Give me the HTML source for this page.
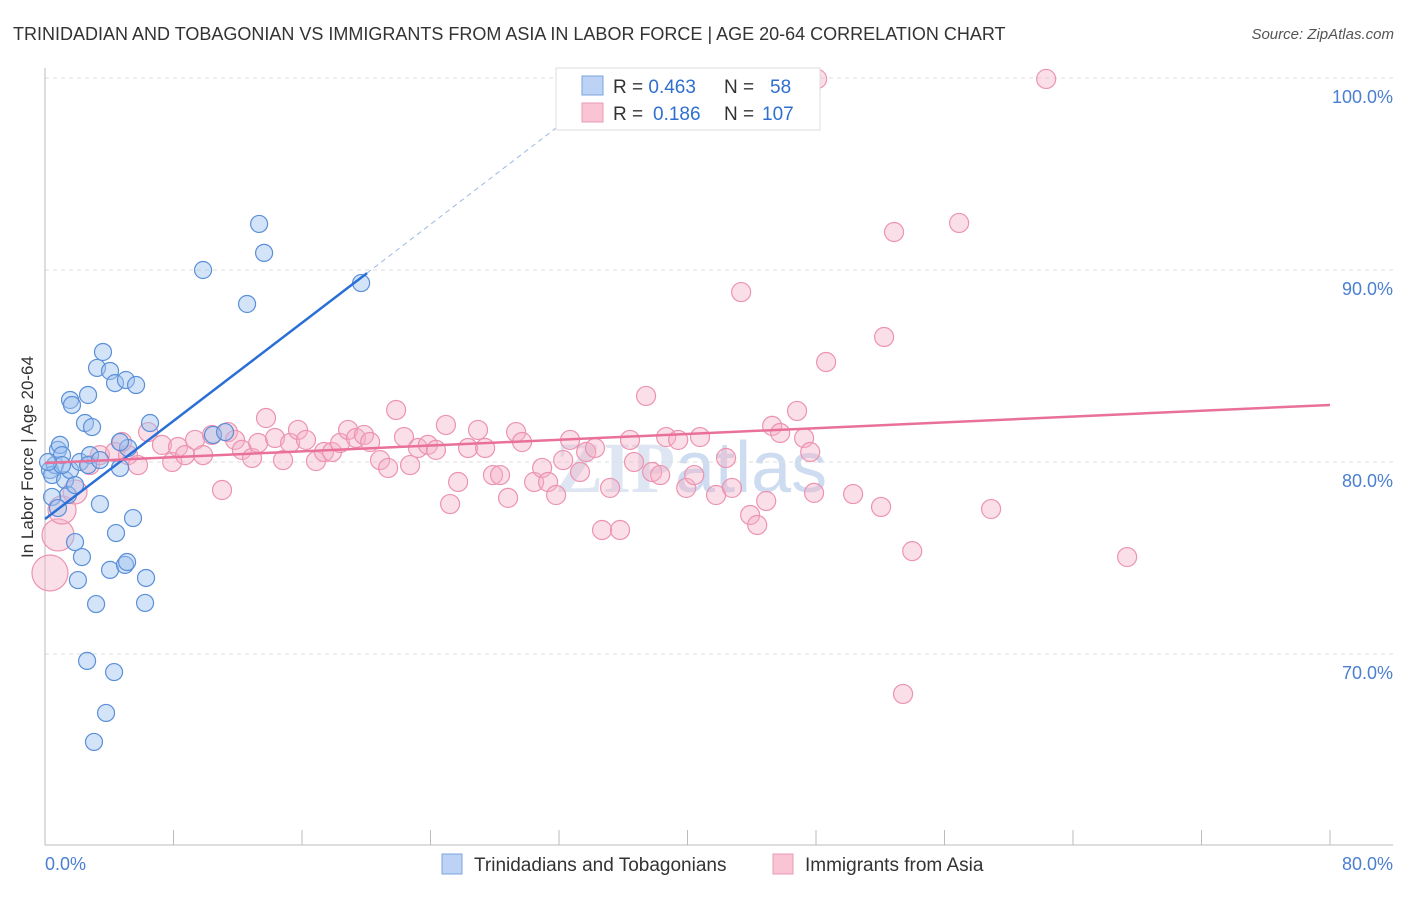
<!DOCTYPE html>
<html><head><meta charset="utf-8"><style>
body{margin:0;background:#fff;font-family:"Liberation Sans",sans-serif;}
</style></head><body>
<svg id="chart" width="1406" height="892" viewBox="0 0 1406 892" xmlns="http://www.w3.org/2000/svg" font-family="Liberation Sans, sans-serif">
<text x="13" y="40" font-size="18" fill="#333">TRINIDADIAN AND TOBAGONIAN VS IMMIGRANTS FROM ASIA IN LABOR FORCE | AGE 20-64 CORRELATION CHART</text>
<text x="1394" y="39" font-size="15" fill="#555" font-style="italic" text-anchor="end">Source: ZipAtlas.com</text>
<text x="555" y="492" font-size="72" fill="#dde6f2" font-weight="bold" font-family="Liberation Serif, serif">ZIP<tspan fill="#cddcf0" font-weight="normal" font-family="Liberation Sans, sans-serif">atlas</tspan></text>
<text transform="translate(33,457) rotate(-90)" font-size="17" fill="#333" text-anchor="middle">In Labor Force | Age 20-64</text>
<g id="grid"></g><g id="pts"></g><g id="lines"></g>
<g>
<rect x="556" y="68" width="264" height="62" fill="#fff" stroke="#ddd"/>
<rect x="582" y="76" width="21" height="19" fill="#bcd3f5" stroke="#7aa3e0"/>
<rect x="582" y="103" width="21" height="19" fill="#f9c4d4" stroke="#eb9ab5"/>
<text x="613" y="93" font-size="19" fill="#333">R = <tspan fill="#2f6fd0">0.463</tspan><tspan x="724">N = </tspan><tspan x="770" fill="#2f6fd0">58</tspan></text>
<text x="613" y="120" font-size="19" fill="#333">R = <tspan x="653" fill="#2f6fd0">0.186</tspan><tspan x="724">N = </tspan><tspan x="762" fill="#2f6fd0">107</tspan></text>
</g>
<g>
<rect x="442" y="854" width="20" height="20" fill="#bcd3f5" stroke="#7aa3e0"/>
<text x="474" y="871" font-size="19" fill="#333">Trinidadians and Tobagonians</text>
<rect x="773" y="854" width="20" height="20" fill="#f9c4d4" stroke="#eb9ab5"/>
<text x="805" y="871" font-size="19" fill="#333">Immigrants from Asia</text>
</g>
</svg>
<script>
const blueX=[0.31,0.62,0.81,0.93,0.44,1.06,1.25,1.56,1.43,1.87,2.18,2.80,2.68,3.42,4.67,5.17,6.54,1.56,1.68,2.68,2.49,2.93,3.61,3.24,4.05,4.36,5.04,5.67,0.44,0.81,1.87,2.30,2.05,3.42,4.42,5.48,4.05,4.98,5.11,6.29,3.18,6.23,2.62,4.30,3.80,3.05,9.84,12.58,13.33,13.64,19.68,10.46,11.21,1.06,0.19,4.67];
const blueY=[79.58,79.84,80.63,80.89,79.32,80.36,79.06,79.58,78.28,78.80,80.0,80.36,79.84,80.1,79.69,80.73,82.03,83.23,82.97,83.49,82.03,81.82,85.73,84.90,84.74,84.11,84.27,84.01,78.18,77.6,75.83,75.05,73.85,77.81,76.30,77.08,74.38,74.64,74.79,73.96,72.6,72.66,69.64,69.06,66.93,65.42,90.0,88.23,92.40,90.89,89.32,81.41,81.56,79.84,80.0,81.04];
const pinkX=[0.31,0.81,1.06,1.87,2.8,3.42,4.36,5.17,5.79,4.79,6.42,7.28,7.92,8.28,8.72,9.34,9.84,10.4,11.02,11.39,11.83,12.26,12.89,13.27,13.76,14.32,14.82,15.26,15.75,16.25,16.87,17.37,17.87,18.37,18.87,19.36,19.86,20.24,20.86,21.36,21.86,22.35,22.73,23.22,23.84,24.34,24.96,25.22,25.72,26.34,26.96,27.4,27.89,28.33,28.83,29.33,29.7,30.45,30.95,31.32,31.82,32.26,32.69,33.31,33.69,34.24,34.68,35.18,35.8,36.42,36.67,37.42,37.8,38.3,38.67,39.42,39.92,40.42,40.78,41.78,42.4,42.77,43.34,43.9,44.34,44.9,45.27,45.77,46.82,47.26,47.64,47.88,48.07,48.63,50.31,52.05,52.24,52.86,53.42,53.99,56.91,58.9,62.33,67.37];
const pinkY=[74.22,76.2,77.5,78.44,79.84,80.36,80.52,80.36,79.84,81.04,81.56,80.89,80.0,80.78,80.36,81.15,80.36,81.41,78.54,81.56,81.15,80.63,80.21,80.99,82.29,81.25,80.1,80.99,81.67,81.15,80.05,80.52,80.52,80.99,81.67,81.25,81.41,81.04,80.1,79.69,82.71,81.3,79.84,80.73,80.89,80.63,81.93,77.81,78.96,80.73,81.67,80.73,79.32,79.32,78.13,81.56,81.04,78.96,79.69,78.96,78.28,80.1,81.15,79.48,80.52,80.73,76.46,78.65,76.46,81.15,80.0,83.44,79.48,79.32,81.3,81.15,78.65,79.32,81.3,78.28,80.21,78.65,88.85,77.24,76.72,77.97,81.88,81.51,82.66,81.25,80.52,78.39,99.95,85.21,78.33,77.66,86.51,91.98,67.92,75.36,92.45,77.55,99.95,75.05];
const pinkR=[18,16,14,12];
const yTicks=[100,90,80,70];
const yTickLabels=["100.0%","90.0%","80.0%","70.0%"];
const blueTrend=[[0,77.03],[20.05,89.84]];
const blueDash=[[20.05,89.84],[32.6,97.9]];
const pinkTrend=[[0,79.95],[80,82.97]];
const NS="http://www.w3.org/2000/svg";
function sx(v){return 45+v/80*1285;}
function sy(v){return 270+(90-v)*19.2;}
function mk(tag,attrs,parent){const e=document.createElementNS(NS,tag);for(const k in attrs)e.setAttribute(k,attrs[k]);parent.appendChild(e);return e;}
const grid=document.getElementById('grid');
yTicks.forEach((t,i)=>{
 const l=mk('line',{x1:45,x2:1393,y1:sy(t),y2:sy(t),stroke:'#ddd','stroke-dasharray':'4,4'},grid);
 
 
 const tx=mk('text',{x:1393,y:sy(t)+25,'font-size':18,fill:'#4a7fd0','text-anchor':'end'},grid);
 tx.textContent=yTickLabels[i];
 
 
});
const ax=mk('line',{x1:45,x2:45,y1:68,y2:845,stroke:'#bbb'},grid);


const bx=mk('line',{x1:45,x2:1393,y1:845,y2:845,stroke:'#bbb'},grid);


for(let i=0;i<=10;i++){
 const t=mk('line',{x1:sx(i*8),x2:sx(i*8),y1:830,y2:845,stroke:'#bbb'},grid);
 
 
}
const xl0=mk('text',{x:45,y:870,'font-size':18,fill:'#4a7fd0'},grid);xl0.textContent='0.0%';


const xl1=mk('text',{x:1393,y:870,'font-size':18,fill:'#4a7fd0','text-anchor':'end'},grid);xl1.textContent='80.0%';


const pts=document.getElementById('pts');
pinkX.forEach((x,i)=>{
 const c=mk('circle',{cx:sx(x),cy:sy(pinkY[i]),r:pinkR[i]||9.5,fill:'rgba(246,175,198,0.4)',stroke:'#ec93b0','stroke-width':1.2},pts);
 
 
});
blueX.forEach((x,i)=>{
 const c=mk('circle',{cx:sx(x),cy:sy(blueY[i]),r:8.5,fill:'rgba(160,195,240,0.45)',stroke:'#5b8fd8','stroke-width':1.2},pts);
 
 
});
const lines=document.getElementById('lines');
const b=mk('line',{x1:sx(blueTrend[0][0]),y1:sy(blueTrend[0][1]),x2:sx(blueTrend[1][0]),y2:sy(blueTrend[1][1]),stroke:'#2a6fd6','stroke-width':2.5},lines);


const bd=mk('line',{x1:sx(blueDash[0][0]),y1:sy(blueDash[0][1]),x2:sx(blueDash[1][0]),y2:sy(blueDash[1][1]),stroke:'#9bb8e6','stroke-width':1,'stroke-dasharray':'5,4'},lines);


const p=mk('line',{x1:sx(pinkTrend[0][0]),y1:sy(pinkTrend[0][1]),x2:sx(pinkTrend[1][0]),y2:sy(pinkTrend[1][1]),stroke:'#e8709a','stroke-width':2.5},lines);


</script>
</body></html>
